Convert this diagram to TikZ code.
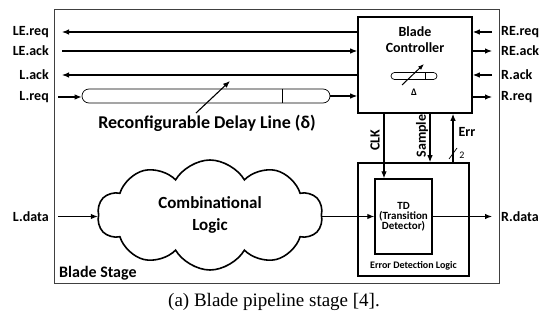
\documentclass[tikz,border=0pt]{standalone}
\usepackage{fontspec}
\setmainfont{Carlito}
\newfontfamily\capfont{Liberation Serif}
\usetikzlibrary{arrows.meta,shapes.symbols,shapes.misc}

\tikzset{
  sig/.style={line width=1.1pt,-{Latex[length=7pt,width=5.5pt]}},
  pin/.style={font=\bfseries\fontsize{14}{16}\selectfont,inner sep=0pt},
  blk/.style={draw,line width=1.6pt},
}

\begin{document}
\begin{tikzpicture}[x=1pt,y=-1pt]
\useasboundingbox (0,0) rectangle (548,328);

\draw [black!75,line width=0.8pt] (54,9) rectangle (499,283);
\node [pin,anchor=base west,font=\bfseries\fontsize{16}{18}\selectfont] (stage) at (59,277) {Blade Stage};

\node [blk,minimum width=114,minimum height=96] (ctrl) at (415,65) {};
\node [pin,align=center] (ctrltxt) at (415,40) {Blade\\Controller};
\node [draw,rounded rectangle,line width=0.7pt,minimum width=46,minimum height=7,inner sep=0pt] (icon) at (414,76) {};
\draw [line width=0.7pt] ([xshift=-8pt]icon.north east) -- ([xshift=-8pt]icon.south east);
\coordinate (iconA) at (402,85); \coordinate (iconB) at (424,64);
\draw [line width=1pt,-{Latex[length=6pt,width=4.5pt]}] (iconA) -- (iconB);
\node [font=\bfseries\fontsize{10}{10}\selectfont] (delta) at (414,92) {Δ};

% left side handshake
\node [pin,anchor=east] (lereq) at (49,32) {LE.req};
\node [pin,anchor=east] (leack) at (49,51) {LE.ack};
\node [pin,anchor=east] (lack) at (49,75) {L.ack};
\node [pin,anchor=east] (lreq) at (49,97) {L.req};
\coordinate (lereqE) at (62,32); \coordinate (leackE) at (62,51);
\coordinate (lackE) at (62,75); \coordinate (lreqE) at (58,97);
\draw [sig] (lereqE -| ctrl.west) -- (lereqE);
\draw [sig] (leackE) -- (leackE -| ctrl.west);
\draw [sig] (lackE -| ctrl.west) -- (lackE);

\node [draw,rounded rectangle,line width=0.7pt,minimum width=248,minimum height=14,inner sep=0pt] (dl) at (206,96) {};
\draw [line width=0.7pt] ([xshift=-41pt]dl.north east) -- ([xshift=-41pt]dl.south east);
\draw [sig] (lreqE) -- (lreqE -| dl.west);
\draw [sig] (dl.east) -- (dl.east -| ctrl.west);
\node [pin,font=\bfseries\fontsize{18}{20}\selectfont] (dltxt) at (207,123) {Reconfigurable Delay Line (δ)};
\coordinate (dlptr) at (230,81);
\draw [sig] (196,113) -- (dlptr);

% right side handshake
\node [pin,anchor=west] (rereq) at (501,32) {RE.req};
\node [pin,anchor=west] (reack) at (501,51) {RE.ack};
\node [pin,anchor=west] (rack) at (501,75) {R.ack};
\node [pin,anchor=west] (rreq) at (501,97) {R.req};
\coordinate (rereqE) at (492,32); \coordinate (reackE) at (492,51);
\coordinate (rackE) at (492,75); \coordinate (rreqE) at (492,97);
\draw [sig] (rereqE) -- (rereqE -| ctrl.east);
\draw [sig] (ctrl.east |- reackE) -- (reackE);
\draw [sig] (rackE) -- (rackE -| ctrl.east);
\draw [sig] (ctrl.east |- rreqE) -- (rreqE);

% data path
\node [draw,cloud,cloud ignores aspect,line width=1.6pt,cloud puffs=10,cloud puff arc=120,minimum width=225,minimum height=110,align=center,font=\bfseries\fontsize{17}{22}\selectfont] (logic) at (210,215) {Combinational\\Logic};
\node [blk,minimum width=111,minimum height=113] (edl) at (413.5,219.5) {};
\node [font=\bfseries\fontsize{10}{10}\selectfont] (edltxt) at (413.5,266) {Error Detection Logic};
\node [draw,line width=1.3pt,minimum width=57,minimum height=75,align=center,font=\bfseries\fontsize{11}{10}\selectfont] (td) at (403.5,216.5) {TD\\(Transition\\Detector)};

\node [pin,anchor=east] (ldata) at (49,217) {L.data};
\node [pin,anchor=west] (rdata) at (501,217) {R.data};
\coordinate (ldataE) at (58,216.5); \coordinate (rdataE) at (492,216.5);
\draw [sig] (ldataE) -- (ldataE -| logic.west);
\draw [sig] (logic.east |- td.west) -- (td.west);
\draw [sig] (td.east) -- (rdataE);

% controller <-> error detection
\coordinate (clk) at (384,0); \coordinate (smp) at (430,0); \coordinate (err) at (453,0);
\draw [sig] (clk |- ctrl.south) -- (clk |- td.north);
\draw [sig] (smp |- ctrl.south) -- (smp |- edl.north);
\draw [sig] (err |- edl.north) -- (err |- ctrl.south);
\node [pin,rotate=90] (clktxt) at (375,140) {CLK};
\node [pin,rotate=90] (smptxt) at (422,136) {Sample};
\node [pin] (errtxt) at (467,132) {Err};
\draw [line width=0.7pt] (449,159) -- (457,148);
\node [font=\fontsize{10}{10}\selectfont,inner sep=0pt] (bus) at (462,155) {2};

\node [font=\capfont\fontsize{19}{22}\selectfont] (cap) at (274,302) {(a) Blade pipeline stage [4].};
\end{tikzpicture}
\end{document}
